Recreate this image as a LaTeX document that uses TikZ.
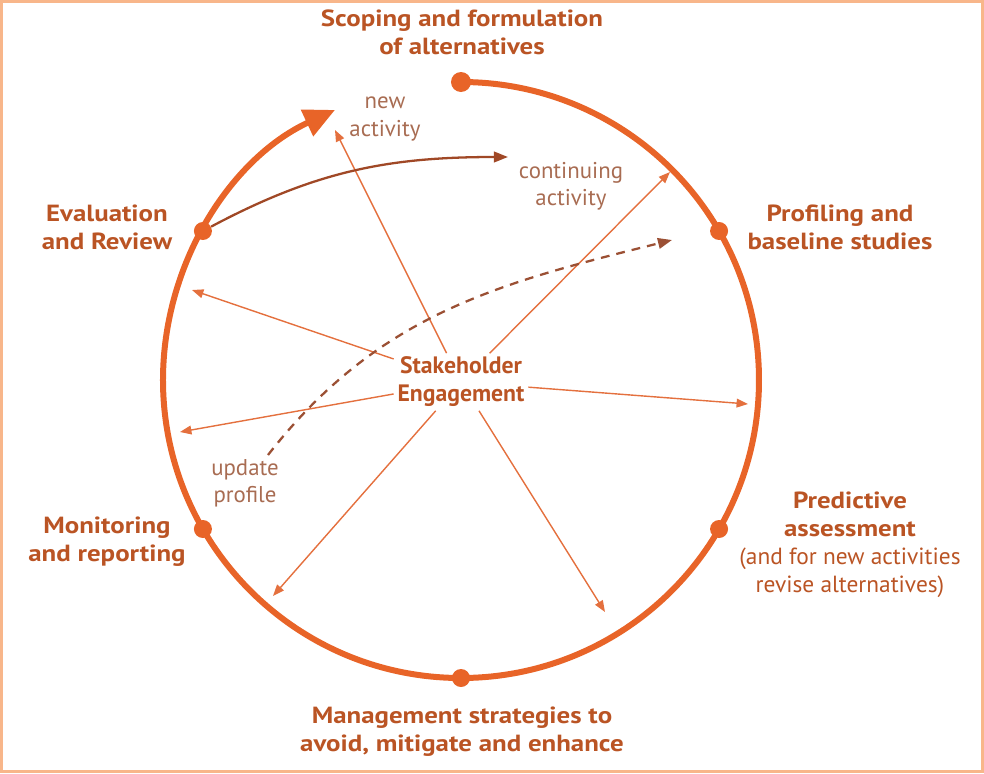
\documentclass[tikz,border=0pt]{standalone}
\usepackage{fontspec}
\setmainfont{PT Sans}
\newfontfamily\stagefont[FakeStretch=1.15]{PT Sans}
\usetikzlibrary{arrows.meta}

\definecolor{ringorange}{RGB}{232,100,40}
\definecolor{labelbrown}{RGB}{186,84,36}
\definecolor{spokeorange}{RGB}{228,112,62}
\definecolor{notebrown}{RGB}{168,108,82}
\definecolor{arcbrown}{RGB}{160,72,38}
\definecolor{frameorange}{RGB}{248,182,138}

\tikzset{
  ring/.style={ringorange, line width=0.12cm},
  dot/.style={circle, fill=ringorange, inner sep=0pt, minimum size=0.36cm},
  steplabel/.style={labelbrown, font=\stagefont\bfseries\fontsize{13.3}{15.9}\selectfont, align=center},
  note/.style={notebrown, font=\fontsize{13}{15.5}\selectfont, align=center},
  spoke/.style={spokeorange, line width=0.8pt, -{Triangle[length=6.5pt,width=5pt]}},
}

\begin{document}
\begin{tikzpicture}
  \useasboundingbox (-9.22,-7.86) rectangle (10.46,7.6);
  \draw[frameorange, line width=0.06cm] (-9.19,-7.83) rectangle (10.43,7.57);

  % the cycle
  \draw[ring, -{Triangle[length=0.62cm,width=0.56cm]}] (90:5.96) arc[start angle=90, end angle=-245, radius=5.96cm];
  \node[dot, minimum size=0.4cm] (scopdot) at (90:5.96) {};
  \node[dot] (profdot) at (30:5.96) {};
  \node[dot] (preddot) at (-30:5.96) {};
  \node[dot] (mgmtdot) at (-90:5.96) {};
  \node[dot] (mondot) at (-150:5.96) {};
  \node[dot] (evaldot) at (150:5.96) {};

  % stage labels
  \node[steplabel] (scop) at (0.02,6.96) {Scoping and formulation\\of alternatives};
  \node[steplabel] (prof) at (7.58,3.06) {Profiling and\\baseline studies};
  \node[steplabel] (pred) at (7.78,-3.3) {Predictive\\assessment\\{\normalfont(and for new activities}\\{\normalfont revise alternatives)}};
  \node[steplabel] (mgmt) at (0.02,-7.04) {Management strategies to\\avoid, mitigate and enhance};
  \node[steplabel] (mon) at (-7.08,-3.24) {Monitoring\\and reporting};
  \node[steplabel] (eval) at (-7.08,3.06) {Evaluation\\and Review};

  \node[note] (newact) at (-1.52,5.22) {new\\activity};
  \node[note] (contact) at (2.2,3.88) {continuing\\activity};
  \node[note] (upd) at (-4.32,-2.06) {update\\profile};

  \node[labelbrown, font=\bfseries\fontsize{13.5}{15.9}\selectfont, align=center, inner sep=2pt] (se) at (0,-0.04) {Stakeholder\\Engagement};

  % spoke ends
  \coordinate (t1) at (-2.52,5.0);
  \coordinate (t2) at (4.18,4.16);
  \coordinate (t3) at (-5.38,1.8);
  \coordinate (t4) at (-5.62,-1.04);
  \coordinate (t5) at (5.74,-0.48);
  \coordinate (t6) at (-3.76,-4.32);
  \coordinate (t7) at (2.88,-4.64);
  \foreach \t in {t1,t2,t3,t4,t5,t6,t7}
    \draw[spoke] (se) -- (\t);

  \coordinate (conttip) at (0.94,4.46);
  \draw[arcbrown, line width=1.3pt, -{Triangle[length=8pt,width=6pt]}] (evaldot) to[out=28,in=180] (conttip);

  \coordinate (updstart) at (-3.86,-1.5);
  \coordinate (updtip) at (4.22,2.8);
  \draw[arcbrown!85!gray, line width=1.3pt, dash pattern=on 5pt off 4pt, -{Triangle[length=8pt,width=6pt]}] (updstart) to[out=52,in=194] (updtip);
\end{tikzpicture}
\end{document}
